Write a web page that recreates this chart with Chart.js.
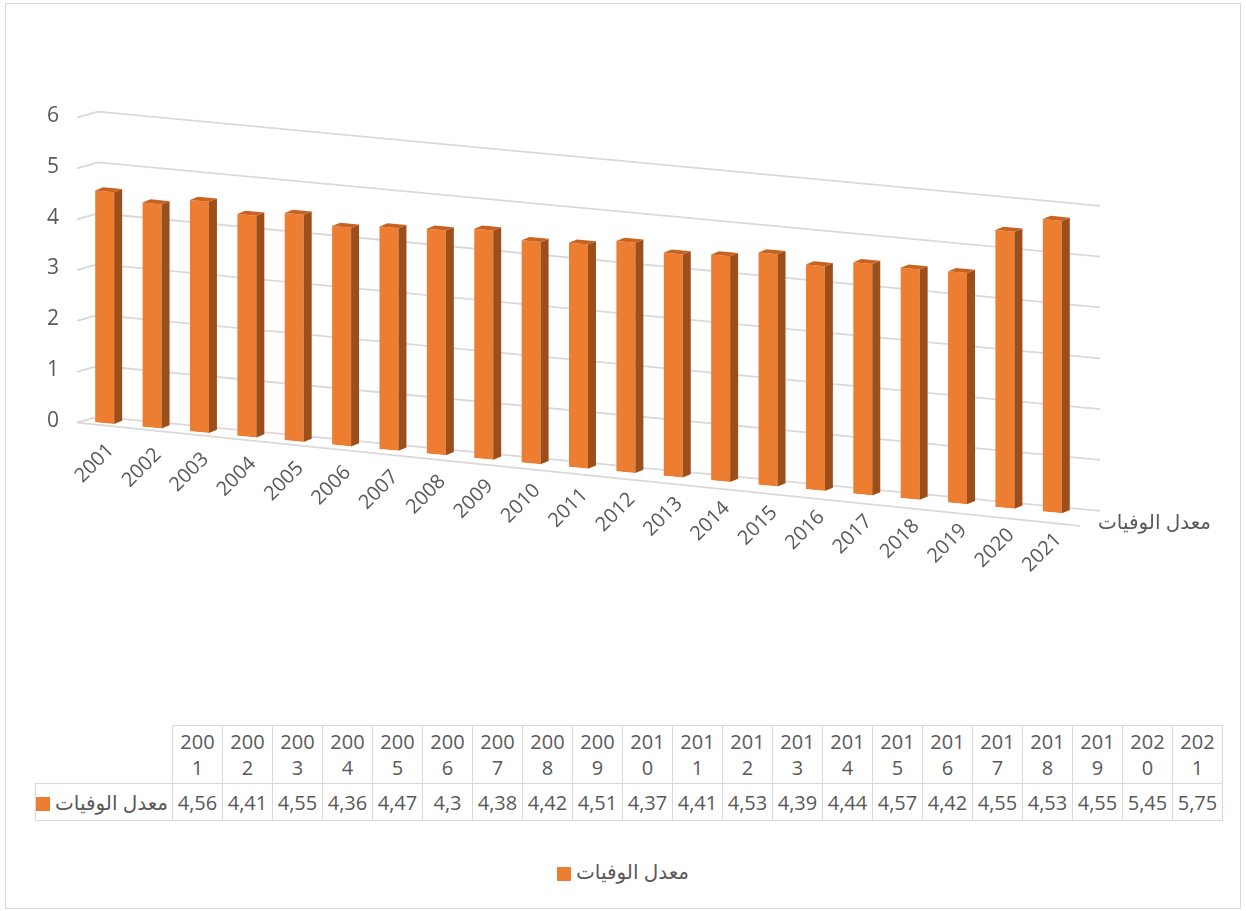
<!DOCTYPE html>
<html lang="ar">
<head>
<meta charset="utf-8">
<title>معدل الوفيات 2001-2021</title>
<script src="https://cdn.jsdelivr.net/npm/chart.js@4.4.1/dist/chart.umd.min.js"></script>
<style>
  html, body { margin: 0; padding: 0; background: #fff; }
  body { width: 1246px; height: 911px; position: relative; overflow: hidden;
         font-family: "Open Sans", "DejaVu Sans", sans-serif; color: #595959; }
  #frame { position: absolute; left: 5px; top: 3px; width: 1236px; height: 906px;
           border: 1px solid #d9d9d9; box-sizing: border-box; }
  #chart { position: absolute; left: 0; top: 0; }
  #dataTable { position: absolute; left: 35px; top: 725px; width: 1188px;
               border-collapse: collapse; table-layout: fixed; font-size: 20px; }
  #dataTable td { border: 1px solid #d9d9d9; text-align: center; padding: 0; color: #595959; }
  #dataTable td.blank { border: none; }
  #dataTable tr.head td { height: 57px; line-height: 26px; }
  #dataTable tr.vals td { height: 36px; }
  #dataTable td.label { text-align: right; padding-right: 6px; white-space: nowrap; }
  .swatch { display: inline-block; width: 14px; height: 14px; background: #ED7D31;
            vertical-align: middle; margin-right: 5px; }
  #legend { position: absolute; left: 0; width: 1246px; top: 858px; text-align: center; font-size: 20px; }
</style>
</head>
<body>
<div id="frame"></div>
<canvas id="chart" width="1246" height="700"></canvas>
<table id="dataTable"></table>
<div id="legend"></div>
<script>
(function () {
  'use strict';

  /* ---------- data ---------- */
  var years = ['2001', '2002', '2003', '2004', '2005', '2006', '2007', '2008', '2009', '2010',
               '2011', '2012', '2013', '2014', '2015', '2016', '2017', '2018', '2019', '2020', '2021'];
  var deathRate = [4.56, 4.41, 4.55, 4.36, 4.47, 4.3, 4.38, 4.42, 4.51, 4.37,
                   4.41, 4.53, 4.39, 4.44, 4.57, 4.42, 4.55, 4.53, 4.55, 5.45, 5.75];
  var yTicks = [0, 1, 2, 3, 4, 5, 6];
  var seriesName = 'معدل الوفيات';

  var ORANGE = '#ED7D31', SIDE = '#9C4E1B', TOP = '#C9621E',
      GRID = '#d9d9d9', TEXT = '#595959';
  var FONT = '"Open Sans", "DejaVu Sans", sans-serif';
  var SLOPE = 0.094;   // fake perspective: floor sinks towards the right

  /* ---------- table + legend (html) ---------- */
  function fmt(v) { return String(v).replace('.', ','); }
  var table = document.getElementById('dataTable');
  var head = '<colgroup><col style="width:137px">' + years.map(function () { return '<col>'; }).join('') + '</colgroup>';
  head += '<tr class="head"><td class="blank"></td>' + years.map(function (y) {
    return '<td>' + y.slice(0, 3) + '<br>' + y.slice(3) + '</td>';
  }).join('') + '</tr>';
  head += '<tr class="vals"><td class="label"><span class="swatch"></span><span dir="rtl">' + seriesName + '</span></td>' +
    deathRate.map(function (v) { return '<td>' + fmt(v) + '</td>'; }).join('') + '</tr>';
  table.innerHTML = head;
  document.getElementById('legend').innerHTML =
    '<span class="swatch"></span><span dir="rtl">' + seriesName + '</span>';

  /* ---------- 3d-ish look: skewed walls, bar sides, labels ---------- */
  var pseudo3d = {
    id: 'pseudo3d',
    beforeDatasetsDraw: function (chart) {
      var ctx = chart.ctx, a = chart.chartArea, y = chart.scales.y;
      ctx.save();
      ctx.transform(1, SLOPE, 0, 1, 0, -SLOPE * a.left);
      ctx.strokeStyle = GRID;
      ctx.lineWidth = 1.8;
      yTicks.forEach(function (v) {
        var py = y.getPixelForValue(v) - 6;
        ctx.beginPath();
        ctx.moveTo(a.left - 4, py + 8);
        ctx.lineTo(a.left + 17, py);
        ctx.lineTo(a.right + 24, py);
        ctx.stroke();
      });
      // front edge of the floor
      var p0 = y.getPixelForValue(0);
      ctx.beginPath();
      ctx.moveTo(a.left - 4, p0 + 2);
      ctx.lineTo(a.right + 4, p0 + 11);
      ctx.stroke();
    },
    afterDatasetsDraw: function (chart) {
      var ctx = chart.ctx, a = chart.chartArea;
      var meta = chart.getDatasetMeta(0);
      var d = 8, dy = 4;
      meta.data.forEach(function (bar) {
        var p = bar.getProps(['x', 'y', 'base', 'width'], true);
        var l = p.x - p.width / 2, r = p.x + p.width / 2;
        ctx.fillStyle = SIDE;
        ctx.beginPath();
        ctx.moveTo(r, p.y); ctx.lineTo(r + d, p.y - dy);
        ctx.lineTo(r + d, p.base - dy); ctx.lineTo(r, p.base);
        ctx.closePath(); ctx.fill();
        ctx.fillStyle = TOP;
        ctx.beginPath();
        ctx.moveTo(l, p.y); ctx.lineTo(l + d, p.y - dy);
        ctx.lineTo(r + d, p.y - dy); ctx.lineTo(r, p.y);
        ctx.closePath(); ctx.fill();
      });
      ctx.restore();

      // category labels follow the sloping floor
      var x = chart.scales.x, base = chart.scales.y.getPixelForValue(0);
      ctx.save();
      ctx.fillStyle = TEXT;
      ctx.font = '20px ' + FONT;
      ctx.textAlign = 'right';
      ctx.textBaseline = 'middle';
      years.forEach(function (yr, i) {
        var cx = x.getPixelForValue(i);
        var by = base + SLOPE * (cx - a.left);
        ctx.save();
        ctx.translate(cx + 6, by + 24);
        ctx.rotate(-Math.PI / 4);
        ctx.fillText(yr, 0, 0);
        ctx.restore();
      });
      // depth-axis (series) label
      ctx.textAlign = 'left';
      ctx.fillText(seriesName, a.right + 22, base + SLOPE * (a.right - a.left) + 9);
      ctx.restore();
    }
  };

  new Chart(document.getElementById('chart'), {
    type: 'bar',
    data: {
      labels: years,
      datasets: [{
        label: seriesName,
        data: deathRate,
        backgroundColor: ORANGE,
        borderWidth: 0,
        barPercentage: 0.4,
        categoryPercentage: 1
      }]
    },
    options: {
      responsive: false,
      animation: false,
      layout: { padding: { left: 31, right: 170, top: 116, bottom: 279 } },
      plugins: { legend: { display: false }, tooltip: { enabled: false } },
      scales: {
        x: { display: false },
        y: {
          min: 0, max: 6,
          grid: { display: false, drawTicks: false },
          border: { display: false },
          ticks: { stepSize: 1, padding: 22, color: TEXT, font: { family: FONT, size: 21 } },
          afterFit: function (s) { s.width = 50; }
        }
      }
    },
    plugins: [pseudo3d]
  });
})();
</script>
</body>
</html>
